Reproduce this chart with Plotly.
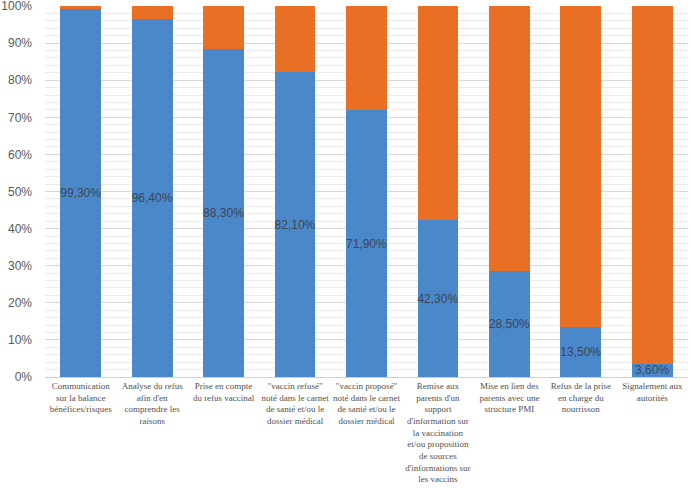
import plotly.graph_objects as go

categories = [
    "Communication<br>sur la balance<br>bénéfices/risques",
    "Analyse du refus<br>afin d'en<br>comprendre les<br>raisons",
    "Prise en compte<br>du refus vaccinal",
    "\"vaccin refusé\"<br>noté dans le carnet<br>de santé et/ou le<br>dossier médical",
    "\"vaccin proposé\"<br>noté dans le carnet<br>de santé et/ou le<br>dossier médical",
    "Remise aux<br>parents d'un<br>support<br>d'information sur<br>la vaccination<br>et/ou proposition<br>de sources<br>d'informations sur<br>les vaccins",
    "Mise en lien des<br>parents avec une<br>structure PMI",
    "Refus de la prise<br>en charge du<br>nourrisson",
    "Signalement aux<br>autorités",
]
oui = [99.3, 96.4, 88.3, 82.1, 71.9, 42.3, 28.5, 13.5, 3.6]
non = [round(100 - v, 1) for v in oui]
ytick_vals = [0, 10, 20, 30, 40, 50, 60, 70, 80, 90, 100]
ytick_text = [f"{v}%" for v in ytick_vals]

blue = "#4a88c9"
orange = "#e96f25"

fig = go.Figure()
fig.add_trace(go.Bar(
    x=categories, y=oui, marker=dict(color=blue, line=dict(width=0)),
    texttemplate="%{y:.2f}%", textposition="inside", insidetextanchor="middle",
    constraintext="none",
    textfont=dict(family="Liberation Sans", size=12, color="#3b4656"),
    textangle=0, showlegend=False,
))
fig.add_trace(go.Bar(
    x=categories, y=non, marker=dict(color=orange, line=dict(width=0)),
    showlegend=False, hoverinfo="skip",
))

fig.update_layout(
    barmode="stack",
    bargap=0.43,
    separators=", ",
    width=699, height=488,
    margin=dict(l=45, r=11, t=6, b=111, autoexpand=False),
    plot_bgcolor="white", paper_bgcolor="white",
)
fig.update_yaxes(
    range=[0, 100], tickmode="array", tickvals=ytick_vals, ticktext=ytick_text,
    showgrid=True, gridcolor="#d9d9d9", gridwidth=1,
    minor=dict(tickmode="linear", tick0=0, dtick=2, showgrid=True, gridcolor="#ececec", gridwidth=1),
    tickfont=dict(family="Liberation Sans", size=12, color="#595959"),
    zeroline=False, showline=False, ticks="", ticklabelstandoff=12,
    ticklabeloverflow="allow", automargin=False,
)
fig.update_xaxes(
    showline=True, linecolor="#d0d0d0", linewidth=1,
    tickfont=dict(family="Liberation Serif, Times New Roman, serif", size=9, color="#505050"),
    tickangle=0, ticks="", automargin=False, ticklabeloverflow="allow",
)

fig.write_html("out.html")
